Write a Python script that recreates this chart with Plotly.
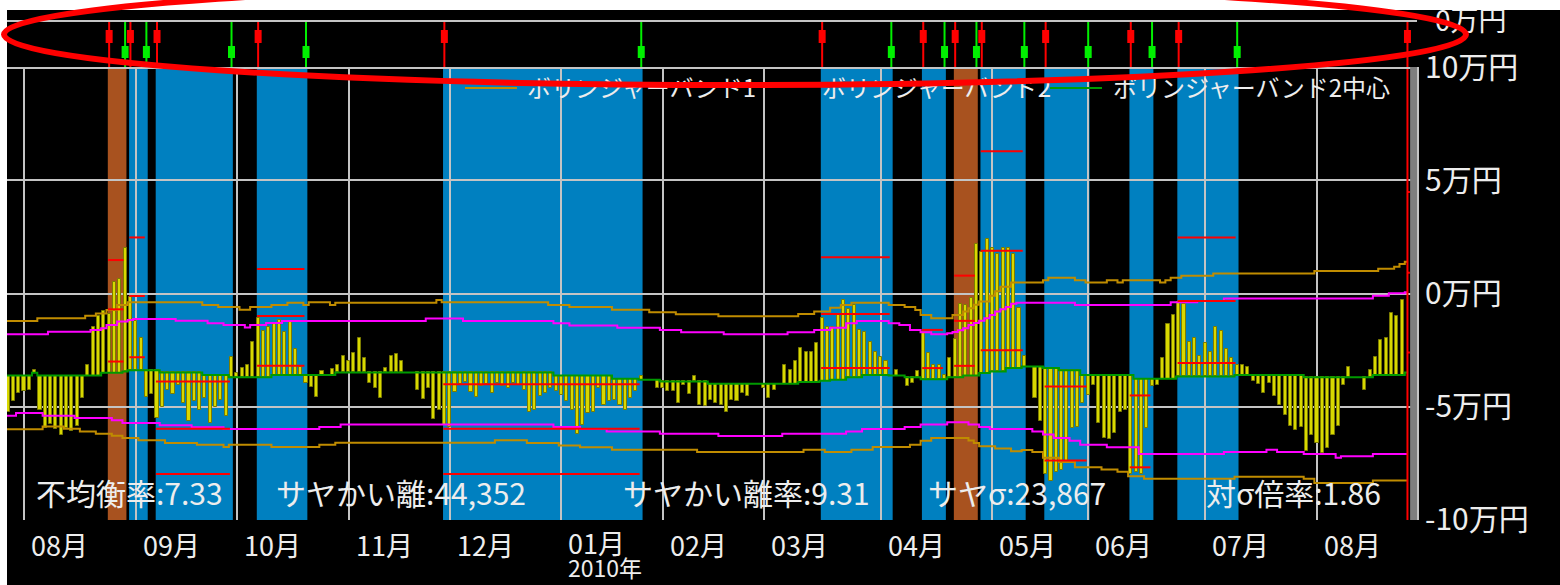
import plotly.graph_objects as go

W, H = 1560, 585
FONT = "Noto Sans CJK JP"

# ---------------- data ----------------
month_labels = ["08月", "09月", "10月", "11月", "12月", "01月", "02月", "03月",
                "04月", "05月", "06月", "07月", "08月"]
month_start = [3, 24, 43, 64, 83, 104, 123, 142, 164, 185, 203, 225, 246]
year_label = "2010年"
year_month_pos = 5

y_tick_vals = [10, 5, 0, -5, -10]
y_tick_text = ["10万円", "5万円", "0万円", "-5万円", "-10万円"]
signal_axis_label = "0万円"

# spread histogram (万円), one per trading day, None = no bar
hist = [
    -5.22, -4.75, -4.42, -4.30, -4.26, -3.40, -5.14, -5.95, -5.78, -5.98,
    -6.25, -5.95, -6.07, -5.84, -4.63, -3.16, -1.46, -0.98, -0.77, -0.92,
    0.52, 0.64, 2.02, -0.14, -1.20, -1.98, -4.56, -4.45, -5.51, -5.04,
    -4.26, -4.45, -4.04, -4.85, -5.66, -4.75, -5.14, -4.63, -5.73, -5.00,
    -4.70, -5.44, -2.79, -3.50, -3.28, -3.16, -2.15, -1.07, -1.68, -1.47,
    -1.33, -1.17, -1.69, -1.24, -2.46, -3.23, -3.96, -4.14, -4.56, -3.45,
    None, -3.35, -3.16, -2.76, -3.00, -2.64, -1.98, -2.86, -3.94, -4.16,
    -4.63, -3.28, -2.76, -2.66, -2.97, None, None, -4.26, -4.66, -4.16,
    -5.54, -5.14, -5.80, -5.90, -4.34, -4.01, -3.92, -4.34, -4.56, -4.11,
    -4.01, -4.41, -3.97, -4.11, -4.19, -3.97, -4.04, -4.26, -5.22, -5.14,
    -4.55, -4.41, -4.19, -4.33, -4.50, -4.77, -5.14, -6.22, -5.80, -5.29,
    -5.22, -4.19, -4.92, -4.77, -4.70, -4.92, -5.14, -4.63, -4.33, -3.67,
    None, None, -4.16, -4.20, -4.33, -4.33, -4.85, -4.04, -4.45, -3.67,
    -4.92, -4.97, -4.70, -4.85, -4.92, -5.22, -4.70, -4.74, -4.41, -4.55,
    None, None, -4.20, -4.63, -4.26, None, -3.16, -3.38, -2.98, -2.39,
    -2.57, -2.57, -2.17, -1.10, -1.50, -1.50, -0.95, -0.29, -0.70, -0.50,
    -1.61, -1.69, -2.15, -2.57, -2.80, -2.98, None, -3.40, None, -4.11,
    -3.95, -3.45, -1.72, -2.63, -3.16, -3.16, -3.60, -2.86, -2.00, -0.45,
    -0.50, -0.20, 2.21, 1.84, 2.43, 2.00, 1.73, 2.02, 2.02, 1.73,
    -0.66, -2.76, None, -4.63, -5.66, -8.00, -8.30, -7.90, -7.80, -7.40,
    -5.95, -5.90, -4.85, -4.50, -4.04, -5.73, -6.39, -6.42, -6.17, -5.22,
    -5.14, -8.00, -7.90, -8.00, -5.95, -4.07, -4.04, -2.86, -1.36, -0.95,
    -0.39, -0.48, -2.16, -1.98, -2.76, -2.20, -2.57, -1.47, -1.66, -2.47,
    -2.86, -3.16, -3.16, -3.27, -3.86, -4.01, -4.41, -3.97, -4.55, -4.92,
    -5.36, -5.88, -6.02, -5.92, -6.95, -6.24, -6.60, -7.05, -6.83, -6.24,
    -5.88, -4.04, -3.27, None, None, -4.26, -3.38, -2.79, -2.05, -1.98,
    -0.88, -0.98, -0.29, None,
]
last_day = len(hist) - 1

# Bollinger band 2 centre (step breakpoints: day index, value in 万円)
center_x = [0, 5, 6, 18, 22, 23, 29, 37, 42, 50, 62, 103, 114, 119, 123, 132, 149,
            153, 155, 158, 161, 166, 169, 172, 177, 180, 183, 185, 188, 191, 195,
            198, 202, 212, 220, 231, 244, 257, 263]
center_y = [-3.63, -3.51, -3.63, -3.51, -3.45, -3.40, -3.49, -3.60, -3.70, -3.61,
            -3.49, -3.63, -3.77, -3.82, -3.89, -3.99, -3.92, -3.86, -3.82, -3.71,
            -3.60, -3.63, -3.71, -3.79, -3.70, -3.63, -3.52, -3.45, -3.30, -3.23,
            -3.30, -3.40, -3.60, -3.77, -3.67, -3.60, -3.71, -3.60, -3.49]

# Bollinger band 1 (orange) upper / lower
band1_up_x = [0, 6, 15, 17, 19, 21, 23, 37, 40, 44, 46, 50, 53, 56, 57, 61, 62, 81,
              82, 102, 106, 114, 121, 126, 134, 149, 152, 155, 157, 159, 166, 169,
              171, 172, 174, 178, 180, 181, 182, 183, 185, 186, 187, 189, 195, 196,
              201, 203, 207, 209, 210, 217, 218, 219, 221, 227, 246, 258, 261, 262, 263]
band1_up_y = [-1.22, -1.10, -0.98, -0.88, -0.73, -0.51, -0.39, -0.51, -0.60, -0.72,
              -0.60, -0.51, -0.41, -0.51, -0.39, -0.51, -0.41, -0.29, -0.39, -0.51,
              -0.60, -0.72, -0.83, -0.92, -1.01, -0.91, -0.80, -0.63, -0.51, -0.41,
              -0.51, -0.60, -0.73, -0.95, -1.10, -0.95, -0.80, -0.65, -0.50, -0.35,
              -0.10, 0.10, 0.30, 0.49, 0.59, 0.70, 0.59, 0.49, 0.59, 0.49, 0.59,
              0.49, 0.59, 0.70, 0.78, 0.89, 0.99, 1.09, 1.18, 1.30, 1.40]
band1_lo_x = [0, 7, 11, 14, 17, 20, 22, 25, 30, 36, 41, 42, 50, 59, 62, 92, 98, 104,
              108, 114, 130, 150, 154, 159, 163, 170, 172, 174, 181, 182, 183, 186,
              189, 191, 193, 195, 198, 201, 206, 209, 211, 214, 231, 244, 246, 257]
band1_lo_y = [-6.00, -5.88, -5.98, -6.10, -6.20, -6.29, -6.39, -6.49, -6.61, -6.69,
              -6.79, -6.69, -6.79, -6.69, -6.60, -6.49, -6.61, -6.72, -6.80, -6.91,
              -7.01, -6.91, -7.01, -6.91, -6.79, -6.69, -6.51, -6.39, -6.50, -6.61,
              -6.76, -6.86, -6.98, -6.92, -7.01, -7.27, -7.45, -7.69, -7.79, -7.89,
              -8.08, -8.19, -8.11, -8.19, -8.38, -8.27]

# Bollinger band 2 (magenta) upper / lower
band2_up_x = [0, 8, 16, 18, 19, 21, 23, 24, 32, 38, 41, 45, 46, 49, 52, 79, 86, 103,
              106, 115, 123, 127, 135, 147, 152, 155, 158, 160, 166, 168, 170, 172,
              174, 177, 178, 179, 180, 181, 182, 183, 184, 185, 186, 187, 188, 189,
              190, 201, 219, 224, 229, 257, 260, 263]
band2_up_y = [-1.80, -1.69, -1.61, -1.54, -1.39, -1.24, -1.17, -1.13, -1.20, -1.32,
              -1.39, -1.50, -1.39, -1.30, -1.22, -1.11, -1.22, -1.32, -1.42, -1.51,
              -1.61, -1.71, -1.80, -1.71, -1.61, -1.51, -1.32, -1.22, -1.32, -1.39,
              -1.61, -1.71, -1.80, -1.76, -1.70, -1.63, -1.54, -1.39, -1.30, -1.20,
              -1.10, -0.95, -0.80, -0.70, -0.60, -0.45, -0.41, -0.51, -0.39, -0.33,
              -0.22, -0.10, 0.01, 0.05]
band2_lo_x = [0, 2, 7, 13, 20, 22, 29, 35, 41, 59, 63, 103, 108, 113, 123, 134, 146,
              158, 161, 169, 172, 177, 181, 183, 185, 193, 195, 197, 200, 202, 207,
              213, 229, 237, 239, 244, 250, 251, 257]
band2_lo_y = [-5.41, -5.29, -5.41, -5.51, -5.61, -5.73, -5.83, -5.92, -5.99, -5.91,
              -5.80, -5.91, -5.99, -6.10, -6.20, -6.30, -6.20, -6.10, -5.99, -5.91,
              -5.80, -5.70, -5.80, -5.91, -5.99, -6.10, -6.24, -6.39, -6.51, -6.69,
              -6.80, -7.10, -7.01, -6.91, -7.01, -7.10, -7.27, -7.20, -7.10]

# trades: entry day, exit day, kind, price levels (万円)
entries = [19, 23, 28, 47, 82, 153, 172, 178, 183, 195, 211, 220]
exits = [22, 26, 42, 56, 119, 166, 176, 182, 191, 203, 215, 231]
kinds = ["brown", "blue", "blue", "blue", "blue", "blue", "blue", "brown",
         "blue", "blue", "blue", "blue"]
levels = [
    [1.48, -0.70, -3.01],
    [2.48, -0.11, -2.82],
    [-3.89, -5.98, -7.98],
    [1.08, -0.99, -3.20],
    [-4.01, -5.98, -7.98],
    [1.60, -0.91, -3.30],
    [-1.61, -3.30],
    [0.79, -1.21, -3.20],
    [6.29, 1.89, -2.51],
    [-4.11, -7.39],
    [-4.51, -7.69],
    [2.48, -0.33, -3.08],
]
current_entry = 263
current_levels = [4.49, 0.92, -2.61]

stats_text = ["不均衡率:7.33", "サヤかい離:44,352", "サヤかい離率:9.31",
              "サヤσ:23,867", "対σ倍率:1.86"]
legend_names = ["ボリンジャーバンド1", "ボリンジャーバンド2", "ボリンジャーバンド2中心"]

# ---------------- styling / layout constants ----------------
BG = "black"
GRID = "#C4C4C4"
TXT = "#EDEDED"
ORANGE = "#C08C00"
MAGENTA = "#FF00FF"
GREEN = "#009A00"
RED = "#FF0000"
LIME = "#00F000"
BAR_FILL = "#D8D800"
BAR_EDGE = "#7C7C00"
REGION_COL = {"blue": "#0080C0", "brown": "#A8521F"}

PX0, PX1 = 7, 1417          # plot left / right edge in pixels
DAY0, DAY_W = 8.04, 5.321   # pixel of day 0 and day pitch
x_lo = (PX0 - DAY0) / DAY_W
x_hi = (PX1 - DAY0) / DAY_W

X_DOM = [PX0 / W, PX1 / W]
Y_MAIN = [1 - 520 / H, 1 - 67 / H]
Y_SIG = [1 - 67 / H, 1 - 22 / H]
Y_TOP = [1 - 22 / H, 1 - 10 / H]


def step_at(xs, ys, i):
    v = ys[0]
    for x, y in zip(xs, ys):
        if x <= i:
            v = y
    return v


def step_line(xs, ys, end):
    X = [xs[0] - 0.5] + [x - 0.5 for x in xs[1:]] + [end]
    Y = list(ys) + [ys[-1]]
    return X, Y


def vlines(xs, y0, y1):
    X, Y = [], []
    for x in xs:
        X += [x, x, None]
        Y += [y0, y1, None]
    return X, Y


fig = go.Figure()

# histogram bars hanging from the centre line
bx, by, bb = [], [], []
for i, v in enumerate(hist):
    if v is None:
        continue
    base = step_at(center_x, center_y, i)
    bx.append(i)
    by.append(v - base)
    bb.append(base)
fig.add_trace(go.Bar(x=bx, y=by, base=bb, width=0.58,
                     marker=dict(color=BAR_FILL, line=dict(color=BAR_EDGE, width=1)),
                     xaxis="x", yaxis="y", hoverinfo="skip"))

for xs, ys, col in [(band1_up_x, band1_up_y, ORANGE), (band1_lo_x, band1_lo_y, ORANGE),
                    (band2_up_x, band2_up_y, MAGENTA), (band2_lo_x, band2_lo_y, MAGENTA),
                    (center_x, center_y, GREEN)]:
    X, Y = step_line(xs, ys, last_day)
    fig.add_trace(go.Scatter(x=X, y=Y, mode="lines", line=dict(color=col, width=2, shape="hv"),
                             xaxis="x", yaxis="y", hoverinfo="skip"))

# trade levels
sx, sy = [], []
for e, x, lv in zip(entries, exits, levels):
    for v in lv:
        sx += [e - 0.2, x - 0.3, None]
        sy += [v, v, None]
for v in current_levels:
    sx += [current_entry, current_entry + 0.45, None]
    sy += [v, v, None]
fig.add_trace(go.Scatter(x=sx, y=sy, mode="lines", line=dict(color=RED, width=2),
                         xaxis="x", yaxis="y", hoverinfo="skip"))
# current position marker
fig.add_trace(go.Scatter(x=[current_entry, current_entry], y=[-10.02, 10.02], mode="lines",
                         line=dict(color=RED, width=2), xaxis="x", yaxis="y", hoverinfo="skip"))

# signal strip
red_sig = entries + [current_entry]
green_sig = exits
for sig, col, b0, b1 in [(red_sig, RED, 0.533, 0.822), (green_sig, LIME, 0.2, 0.467)]:
    X, Y = vlines(sig, 0, 1)
    fig.add_trace(go.Scatter(x=X, y=Y, mode="lines", line=dict(color=col, width=2),
                             xaxis="x2", yaxis="y2", hoverinfo="skip"))
    X, Y = vlines(sig, b0, b1)
    fig.add_trace(go.Scatter(x=X, y=Y, mode="lines", line=dict(color=col, width=7),
                             xaxis="x2", yaxis="y2", hoverinfo="skip"))

# overlay texts (pixel coordinate overlay axis)
def px_text(x, y, s, size, color=TXT):
    fig.add_trace(go.Scatter(x=[x], y=[y], mode="text", text=[s], textposition="middle right",
                             textfont=dict(family=FONT, size=size, color=color),
                             cliponaxis=False, xaxis="x4", yaxis="y4", hoverinfo="skip"))

for x, s in zip([36, 276, 623, 928, 1206], stats_text):
    px_text(x, 497, s, 30)
for x, s in zip([527, 822, 1113], legend_names):
    px_text(x, 91, s, 24)
px_text(1435, 24, signal_axis_label, 28)

shapes = []
for e, x, k in zip(entries, exits, kinds):
    shapes.append(dict(type="rect", xref="x", yref="y domain", x0=e - 0.25, x1=x + 0.25,
                       y0=0, y1=1, fillcolor=REGION_COL[k], line=dict(width=0), layer="below"))
# area after last day
shapes.append(dict(type="rect", xref="x", yref="y domain", x0=last_day + 0.5, x1=x_hi,
                   y0=0, y1=1, fillcolor="#7E7E7E", line=dict(width=0), layer="above"))
# legend samples
for (a, b), col, yy in zip([(465, 517), (760, 812), (1050, 1102)], [ORANGE, MAGENTA, GREEN],
                           [88, 84, 88]):
    shapes.append(dict(type="line", xref="x4", yref="y4", x0=a, x1=b, y0=yy, y1=yy,
                       line=dict(color=col, width=2), layer="above"))
# white page margins
shapes.append(dict(type="rect", xref="x4", yref="y4", x0=0, x1=W, y0=0, y1=10,
                   fillcolor="white", line=dict(width=0), layer="above"))
shapes.append(dict(type="rect", xref="x4", yref="y4", x0=0, x1=PX0, y0=0, y1=H,
                   fillcolor="white", line=dict(width=0), layer="above"))
# red highlight ellipse
shapes.append(dict(type="circle", xref="x4", yref="y4", x0=4, x1=1466, y0=-16, y1=85,
                   line=dict(color=RED, width=6), fillcolor="rgba(0,0,0,0)", layer="above"))

annotations = []
for k, (m, lab) in enumerate(zip(month_start, month_labels)):
    if k == year_month_pos:
        # month label with the year label on a second, tighter line
        annotations.append(dict(
            x=m, xref="x", y=1 - 553.5 / H, yref="paper",
            text=f"<span style='font-size:27px'>{lab}</span><br>"
                 f"<span style='font-size:23px'>{year_label}</span>",
            showarrow=False, xanchor="left", yanchor="middle", align="left", xshift=6,
            borderpad=0, font=dict(family=FONT, size=18, color=TXT)))
    else:
        annotations.append(dict(x=m, xref="x", y=1 - 544 / H, yref="paper", text=lab,
                                showarrow=False, xanchor="left", yanchor="middle", xshift=6,
                                borderpad=0, font=dict(family=FONT, size=27, color=TXT)))

ax_common = dict(automargin=False, fixedrange=True, zeroline=False)
fig.update_layout(
    width=W, height=H, margin=dict(l=0, r=0, t=0, b=0, pad=0, autoexpand=False),
    paper_bgcolor=BG, plot_bgcolor="rgba(0,0,0,0)", showlegend=False,
    font=dict(family=FONT, color=TXT), bargap=0,
    xaxis=dict(domain=X_DOM, range=[x_lo, x_hi], anchor="y", tickvals=month_start,
               showticklabels=False, ticks="", showgrid=True, gridcolor=GRID, gridwidth=2,
               showline=False, **ax_common),
    yaxis=dict(domain=Y_MAIN, range=[-10.02, 10.02], anchor="x", side="right",
               tickvals=y_tick_vals, ticktext=y_tick_text,
               tickfont=dict(family=FONT, size=30, color=TXT), ticks="",
               showgrid=True, gridcolor=GRID, gridwidth=2,
               showline=True, linecolor=GRID, linewidth=2, **ax_common),
    xaxis2=dict(domain=X_DOM, matches="x", anchor="y2", showgrid=False, showticklabels=False,
                ticks="", showline=True, mirror=True, linecolor=GRID, linewidth=2, **ax_common),
    yaxis2=dict(domain=Y_SIG, range=[0, 1], anchor="x2", visible=False, **ax_common),
    xaxis3=dict(domain=X_DOM, matches="x", anchor="y3", tickvals=month_start, showgrid=True,
                gridcolor=GRID, gridwidth=2, showticklabels=False, ticks="", **ax_common),
    yaxis3=dict(domain=Y_TOP, range=[0, 1], anchor="x3", visible=False, **ax_common),
    xaxis4=dict(domain=[0, 1], range=[0, W], anchor="y4", visible=False, **ax_common),
    yaxis4=dict(domain=[0, 1], range=[H, 0], anchor="x4", visible=False, **ax_common),
    shapes=shapes, annotations=annotations,
)

fig.write_html("out.html", config={"displayModeBar": False},
               post_script="document.body.style.margin='0px';"
                           "document.body.style.overflow='hidden';")
